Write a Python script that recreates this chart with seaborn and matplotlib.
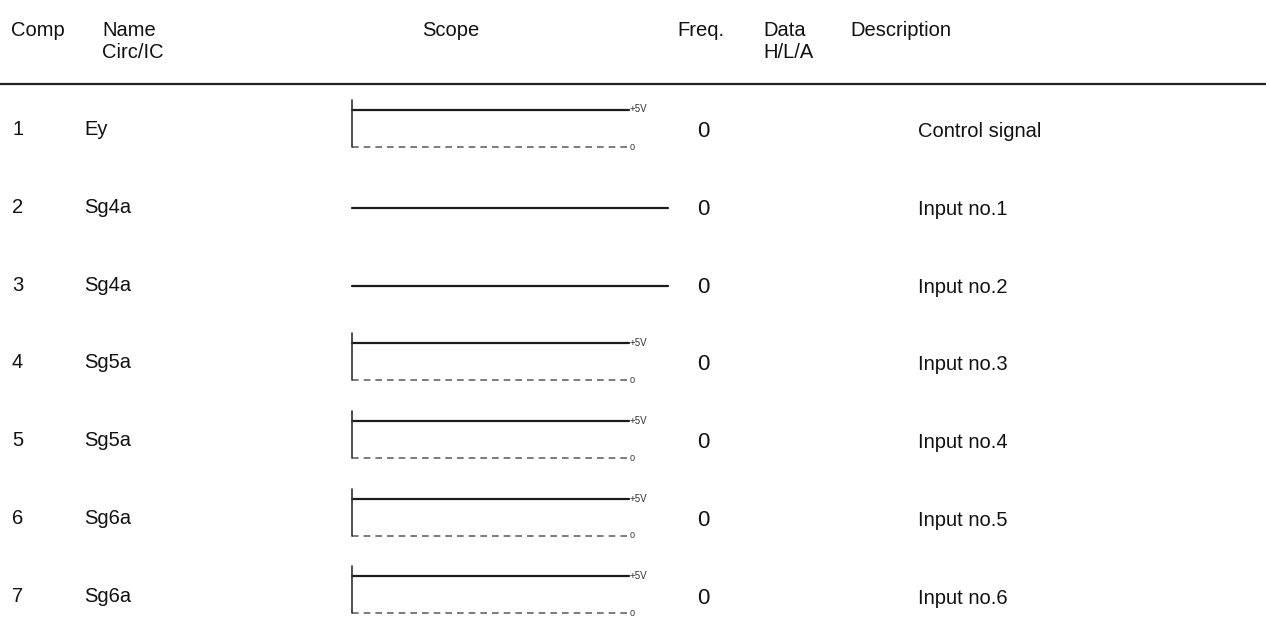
import matplotlib
matplotlib.use("Agg")
import matplotlib.pyplot as plt
import seaborn as sns
import pandas as pd

# table contents
comp = ["1", "2", "3", "4", "5", "6", "7"]
names = ["Ey", "Sg4a", "Sg4a", "Sg5a", "Sg5a", "Sg6a", "Sg6a"]
freq = ["0", "0", "0", "0", "0", "0", "0"]
descriptions = ["Control signal", "Input no.1", "Input no.2", "Input no.3",
                "Input no.4", "Input no.5", "Input no.6"]
# scope type: "levels" = +5V / 0 reference trace, "flat" = plain line
scope_kind = ["levels", "flat", "flat", "levels", "levels", "levels", "levels"]
high_level = 5
low_level = 0

headers = [("Comp", ""), ("Name", "Circ/IC"), ("Scope", ""), ("Freq.", ""),
           ("Data", "H/L/A"), ("Description", "")]

sns.set_theme(style="white")
plt.rcParams["font.family"] = ["Liberation Sans", "DejaVu Sans"]

W, H = 1266, 619
fig = plt.figure(figsize=(W / 100, H / 100), dpi=100)
ax = fig.add_axes([0, 0, 1, 1])

# column layout (pixels)
col_x = {"Comp": 11, "Name": 102, "Scope": 422, "Freq.": 677, "Data": 763,
         "Description": 850}
row_x = {"comp": 12, "name": 84, "freq": 697, "desc": 918}
scope_x0, scope_x1, flat_x1 = 352, 629, 668
row0, row_step = 129.5, 77.8
fs = 14.5
ink = "#111111"

# header
for label, sub in headers:
    ax.text(col_x[label], 31, label, fontsize=fs, color=ink, va="center", ha="left")
    if sub:
        ax.text(col_x[label], 52, sub, fontsize=fs, color=ink, va="center", ha="left")
ax.axhline(84, color="#222222", lw=1.6)


def level_y(yc, level):
    # +5V sits above the row centre, 0 below it
    return yc - 20 if level == high_level else yc + 17


traces = []
for i in range(len(comp)):
    yc = row0 + row_step * i
    ax.text(row_x["comp"], yc, comp[i], fontsize=fs, color=ink, va="center")
    ax.text(row_x["name"], yc, names[i], fontsize=fs, color=ink, va="center")
    ax.text(row_x["freq"], yc + 2, freq[i], fontsize=fs + 1.5, color=ink, va="center")
    ax.text(row_x["desc"], yc + 2, descriptions[i], fontsize=fs, color=ink, va="center")

    if scope_kind[i] == "flat":
        traces.append(pd.DataFrame({"x": [scope_x0, flat_x1], "y": [yc + 1, yc + 1],
                                    "trace": f"r{i}_flat", "kind": "flat"}))
    else:
        yh = level_y(yc, high_level)
        yl = level_y(yc, low_level)
        traces.append(pd.DataFrame({"x": [scope_x0, scope_x1], "y": [yh, yh],
                                    "trace": f"r{i}_hi", "kind": "high"}))
        traces.append(pd.DataFrame({"x": [scope_x0, scope_x1], "y": [yl, yl],
                                    "trace": f"r{i}_lo", "kind": "low"}))
        traces.append(pd.DataFrame({"x": [scope_x0, scope_x0], "y": [yh - 10, yl],
                                    "trace": f"r{i}_axis", "kind": "axis"}))
        ax.text(scope_x1 + 1, yh, f"+{high_level}V", fontsize=7, color="#333333",
                va="center", ha="left")
        ax.text(scope_x1 + 1, yl + 0.5, f"{low_level}", fontsize=6.5, color="#333333",
                va="center", ha="left")

df = pd.concat(traces, ignore_index=True)
styles = {"flat": dict(color="#1c1c1c", lw=1.6, ls="-"),
          "high": dict(color="#1c1c1c", lw=1.6, ls="-"),
          "axis": dict(color="#303030", lw=1.2, ls="-"),
          "low": dict(color="#666666", lw=1.2, ls=(0, (4, 3)))}
for name, seg in df.groupby("trace", sort=False):
    st = styles[seg["kind"].iloc[0]]
    sns.lineplot(data=seg, x="x", y="y", ax=ax, estimator=None, sort=False,
                 color=st["color"], lw=st["lw"], linestyle=st["ls"], legend=False)

ax.set_xlim(0, W)
ax.set_ylim(H, 0)
ax.axis("off")
fig.savefig("out.png", dpi=100, facecolor="white")
